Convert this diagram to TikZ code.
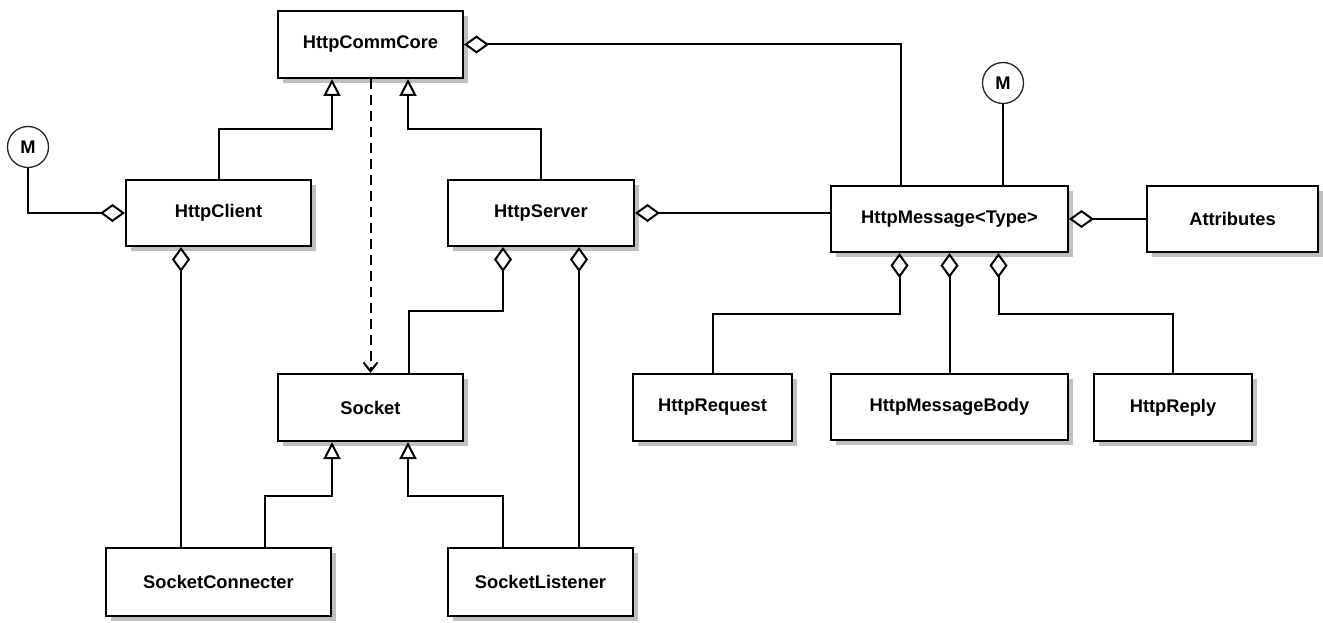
\documentclass[tikz,border=0pt]{standalone}
\usepackage{fontspec}
\setmainfont{Liberation Sans}
\usetikzlibrary{arrows.meta,shadows,calc}
\tikzset{
  lbl/.style={font=\bfseries\fontsize{18.3}{22}\selectfont},
  cls/.style={lbl, draw=black, line width=2pt, fill=white, inner sep=0pt,
    drop shadow={shadow xshift=5pt, shadow yshift=-5pt, fill=black!25, opacity=1}},
  mcirc/.style={lbl, circle, draw=black!85, line width=1.3pt, fill=white, minimum size=41pt, inner sep=0pt},
  conn/.style={line width=2pt, draw=black},
  inh/.style={conn, -{Triangle[open, length=17pt, width=17pt]}},
  agg/.style={conn, {Diamond[open, length=25pt, width=18pt]}-},
  dep/.style={conn, dash pattern=on 10pt off 6pt, -{Straight Barb[length=9pt, width=14pt]}}
}
\begin{document}
\begin{tikzpicture}[x=1pt,y=-1pt]
\useasboundingbox (0,0) rectangle (1323,623);
% classes
\node[cls, minimum width=185pt, minimum height=67pt] (core) at (370.5,44.5) {HttpCommCore};
\node[cls, minimum width=185pt, minimum height=66pt] (client) at (218.5,213) {HttpClient};
\node[cls, minimum width=186pt, minimum height=66pt] (server) at (541,213) {HttpServer};
\node[cls, minimum width=237pt, minimum height=66pt] (msg) at (949.5,219) {HttpMessage<Type>};
\node[cls, minimum width=171pt, minimum height=66pt] (attr) at (1232.5,219) {Attributes};
\node[cls, minimum width=185pt, minimum height=67pt] (socket) at (370.5,407.5) {Socket};
\node[cls, minimum width=159pt, minimum height=67pt] (req) at (712.5,407.5) {HttpRequest};
\node[cls, minimum width=237pt, minimum height=66pt] (body) at (949.5,407) {HttpMessageBody};
\node[cls, minimum width=158pt, minimum height=67pt] (reply) at (1173,407.5) {HttpReply};
\node[cls, minimum width=225pt, minimum height=68pt] (scon) at (218.5,582) {SocketConnecter};
\node[cls, minimum width=185pt, minimum height=68pt] (slis) at (540.5,582) {SocketListener};
\node[mcirc] (m1) at (28,147) {M};
\node[mcirc] (m2) at (1003,83) {M};
% inheritance
\draw[inh] (client.north) |- ($(core.south)+(-38.5,50)$) -- ($(core.south)+(-38.5,0)$);
\draw[inh] (server.north) |- ($(core.south)+(37.5,50)$) -- ($(core.south)+(37.5,0)$);
\draw[inh] ($(scon.north)+(46.5,0)$) |- ($(socket.south)+(-38.5,54)$) -- ($(socket.south)+(-38.5,0)$);
\draw[inh] ($(slis.north)+(-37.5,0)$) |- ($(socket.south)+(37.5,54)$) -- ($(socket.south)+(37.5,0)$);
% dependency
\draw[dep] (core.south) -- (socket.north);
% aggregation
\draw[agg] (core.east) -| ($(msg.north)+(-48.5,0)$);
\draw[agg] (client.west) -| (m1.south);
\draw[agg] (server.east) -- (server.east -| msg.west);
\draw[conn] (m2.south) -- (m2.south |- msg.north);
\draw[agg] (msg.east) -- (attr.west);
\draw[agg] ($(msg.south)+(-50,0)$) -- ++(0,61) -| (req.north);
\draw[agg] (msg.south) -- (body.north);
\draw[agg] ($(msg.south)+(49,0)$) -- ++(0,61) -| (reply.north);
\draw[agg] ($(client.south)+(-37.5,0)$) -- ($(scon.north)+(-37.5,0)$);
\draw[agg] ($(server.south)+(-38,0)$) -- ++(0,64) -| ($(socket.north)+(38.5,0)$);
\draw[agg] ($(server.south)+(38,0)$) -- ($(slis.north)+(38.5,0)$);
\end{tikzpicture}
\end{document}
